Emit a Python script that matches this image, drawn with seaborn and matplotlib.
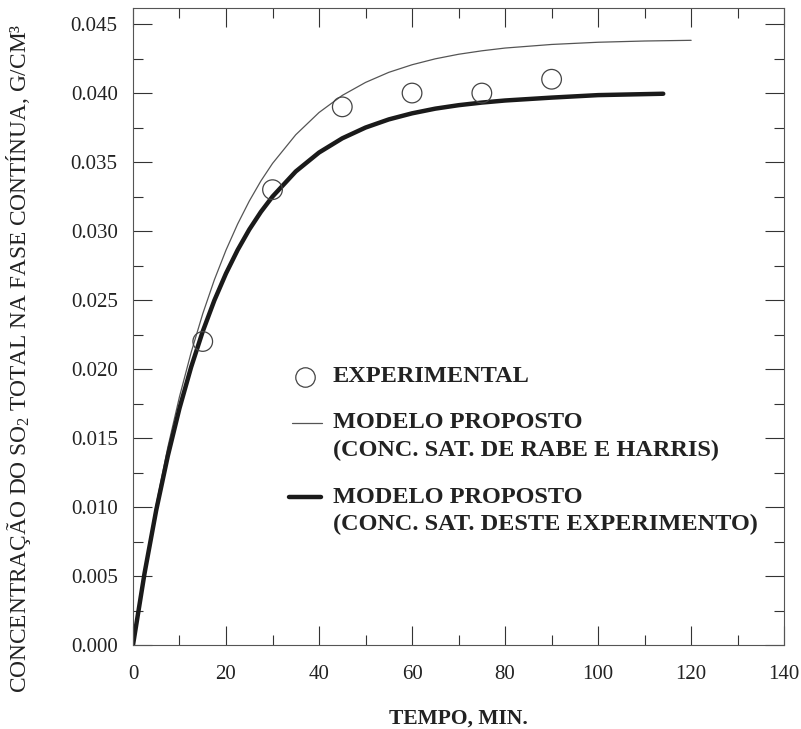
import matplotlib
matplotlib.use("Agg")
import matplotlib.pyplot as plt
from matplotlib.ticker import MultipleLocator, FormatStrFormatter
import pandas as pd
import seaborn as sns

# Experimental SO2 concentration in the continuous phase
exp_time = [15, 30, 45, 60, 75, 90]
exp_conc = [0.022, 0.033, 0.039, 0.040, 0.040, 0.041]

# Proposed model, saturation concentration from Rabe & Harris
rh_time = [0, 2.5, 5, 7.5, 10, 12.5, 15, 17.5, 20, 22.5, 25, 27.5, 30, 35, 40,
           45, 50, 55, 60, 65, 70, 75, 80, 90, 100, 110, 120]
rh_conc = [0.0, 0.00543, 0.01018, 0.01435, 0.01800, 0.02120, 0.02401, 0.02647,
           0.02862, 0.03051, 0.03217, 0.03363, 0.03490, 0.03698, 0.03859,
           0.03983, 0.04077, 0.04150, 0.04205, 0.04248, 0.04281, 0.04306,
           0.04326, 0.04352, 0.04368, 0.04377, 0.04382]

# Proposed model, saturation concentration measured in this experiment
ex_time = [0, 2.5, 5, 7.5, 10, 12.5, 15, 17.5, 20, 22.5, 25, 27.5, 30, 35, 40,
           45, 50, 55, 60, 65, 70, 75, 80, 90, 100, 114]
ex_conc = [0.0, 0.00523, 0.00978, 0.01372, 0.01716, 0.02014, 0.02273, 0.02498,
           0.02693, 0.02863, 0.03011, 0.03139, 0.03250, 0.03432, 0.03569,
           0.03672, 0.03750, 0.03809, 0.03853, 0.03887, 0.03912, 0.03931,
           0.03946, 0.03967, 0.03985, 0.03995]

x_ticks = [0, 20, 40, 60, 80, 100, 120, 140]
y_ticks = [0.000, 0.005, 0.010, 0.015, 0.020, 0.025, 0.030, 0.035, 0.040, 0.045]

sns.set_theme(style="ticks")
plt.rcParams["font.family"] = ["Liberation Serif", "DejaVu Serif"]
plt.rcParams["mathtext.fontset"] = "custom"
plt.rcParams["mathtext.rm"] = "Liberation Serif"
plt.rcParams["mathtext.it"] = "Liberation Serif:italic"
plt.rcParams["mathtext.bf"] = "Liberation Serif:bold"

df_exp = pd.DataFrame({"t": exp_time, "c": exp_conc})
df_rh = pd.DataFrame({"t": rh_time, "c": rh_conc})
df_ex = pd.DataFrame({"t": ex_time, "c": ex_conc})

fig = plt.figure(figsize=(8.01, 7.29), dpi=100)
ax = fig.add_axes([0.166, 0.115, 0.813, 0.874])

sns.lineplot(data=df_rh, x="t", y="c", ax=ax, color="#555555", linewidth=0.9,
             sort=False, estimator=None)
sns.lineplot(data=df_ex, x="t", y="c", ax=ax, color="#1a1a1a", linewidth=3.2,
             sort=False, estimator=None)
sns.scatterplot(data=df_exp, x="t", y="c", ax=ax, marker="o", s=200,
                facecolors="none", edgecolor="#444444", linewidth=0.9, zorder=5)

ax.set_xlim(0, 140)
ax.set_ylim(0, 0.04616)
ax.set_xticks(x_ticks)
ax.set_yticks(y_ticks)
ax.xaxis.set_minor_locator(MultipleLocator(10))
ax.yaxis.set_minor_locator(MultipleLocator(0.0025))
ax.yaxis.set_major_formatter(FormatStrFormatter("%.3f"))
ax.tick_params(which="both", direction="in", top=True, right=True,
               colors="#333333", labelcolor="#222222", width=0.8)
ax.tick_params(which="major", length=14, labelsize=15)
ax.tick_params(which="minor", length=7)
ax.tick_params(axis="y", which="major", pad=11)
ax.tick_params(axis="x", which="major", pad=14)
for sp in ax.spines.values():
    sp.set_color("#555555")
    sp.set_linewidth(0.8)

ax.set_xlabel("TEMPO, MIN.", fontsize=15.5, fontweight="bold", labelpad=18,
              color="#222222")
ax.set_ylabel("CONCENTRAÇÃO DO SO$_2$ TOTAL NA FASE CONTÍNUA, G/CM³",
              fontsize=16.8, color="#222222")
ax.yaxis.set_label_coords(-0.153, 0.45)

# Legend drawn in axes coordinates
tr = ax.transAxes
lg_font = dict(fontsize=17.5, fontweight="bold", color="#222222",
               transform=tr, va="center", ha="left")
ax.plot([0.264], [0.421], marker="o", markersize=14, markerfacecolor="none",
        markeredgecolor="#444444", markeredgewidth=0.9, transform=tr)
ax.text(0.307, 0.421, "EXPERIMENTAL", **lg_font)
ax.plot([0.244, 0.290], [0.349, 0.349], color="#555555", linewidth=0.9,
        transform=tr)
ax.text(0.307, 0.349, "MODELO PROPOSTO", **lg_font)
ax.text(0.307, 0.305, "(CONC. SAT. DE RABE E HARRIS)", **lg_font)
ax.plot([0.240, 0.288], [0.232, 0.232], color="#1a1a1a", linewidth=3.2,
        transform=tr)
ax.text(0.307, 0.232, "MODELO PROPOSTO", **lg_font)
ax.text(0.307, 0.190, "(CONC. SAT. DESTE EXPERIMENTO)", **lg_font)

fig.savefig("out.png", dpi=100)
